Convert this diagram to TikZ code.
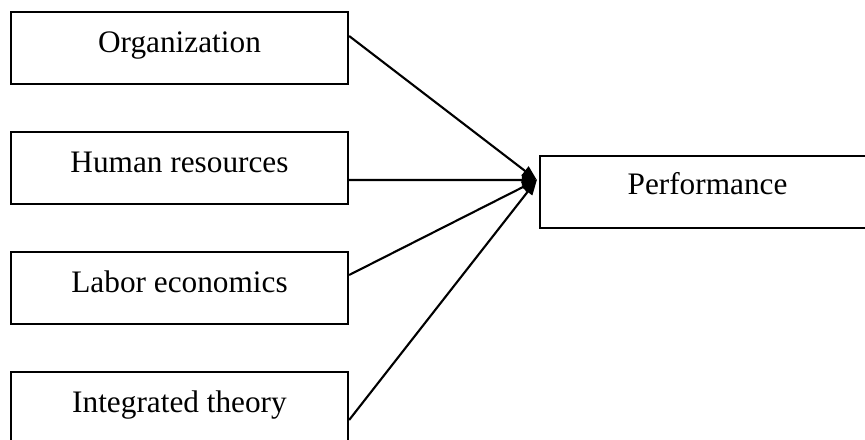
\documentclass[tikz,border=0pt]{standalone}
\usepackage{fontspec}
\setmainfont{Liberation Serif}
\usepackage{tikz}
\usetikzlibrary{positioning}
\usetikzlibrary{arrows.meta}

\tikzset{
  factor/.style={draw, line width=1.9pt, minimum width=10.11cm, minimum height=2.16cm,
    text height=18pt, text depth=11pt, font=\fontsize{26.7}{32}\selectfont},
  link/.style={line width=1.8pt, -{Triangle[length=0.45cm,width=0.34cm]}}
}

\begin{document}
\begin{tikzpicture}[x=0.03cm,y=-0.03cm]

 \useasboundingbox (0,0) rectangle (865,439);
 \clip (0,0) rectangle (865,439);

 \node[factor] (org) at (179.5,48) {Organization};
 \node[factor] (hr) at (179.5,168) {Human resources};
 \node[factor] (labor) at (179.5,288) {Labor economics};
 \node[factor] (integ) at (179.5,408) {Integrated theory};

 \node[factor, minimum width=10.05cm, text depth=13pt] (perf) at (707.5,192) {Performance};

 \coordinate (tip) at ([xshift=-0.06cm,yshift=0.36cm]perf.west);

 \draw[link] ([yshift=0.36cm]org.east) -- (tip);
 \draw[link] ([yshift=-0.36cm]hr.east) -- (tip);
 \draw[link] ([yshift=0.39cm]labor.east) -- (tip);
 \draw[link] ([yshift=-0.36cm]integ.east) -- (tip);

\end{tikzpicture}
\end{document}
